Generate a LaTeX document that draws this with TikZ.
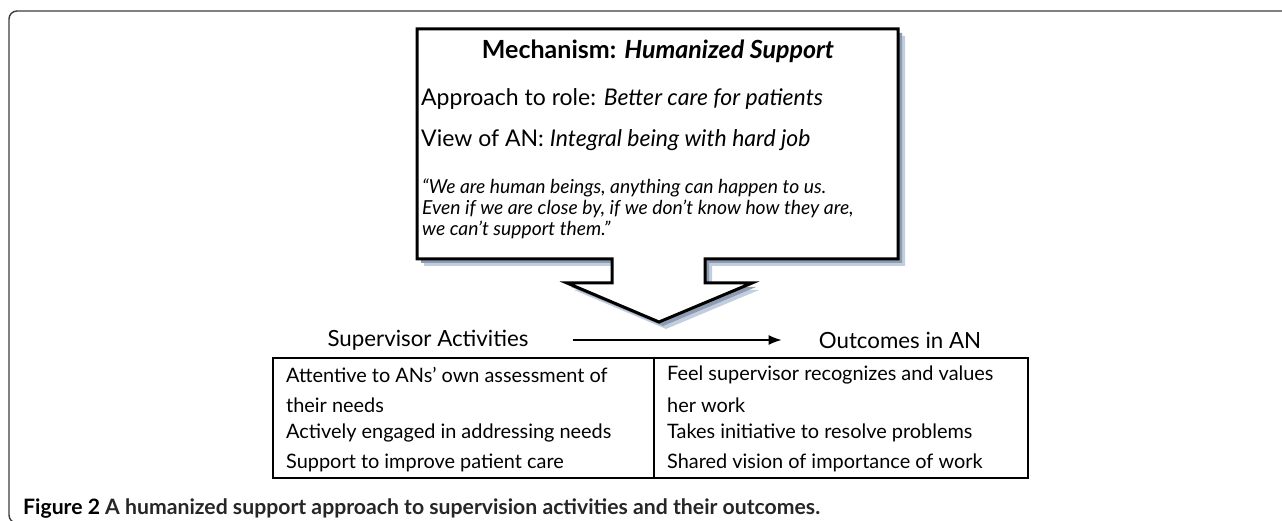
\documentclass[tikz,border=0pt]{standalone}
\usepackage{fontspec}
\setmainfont{Lato}
\usetikzlibrary{arrows.meta}
\definecolor{shadowblue}{RGB}{140,156,180}
\definecolor{shadowpale}{RGB}{196,205,218}
\definecolor{framegray}{RGB}{60,60,60}
\tikzset{
  boxtext/.style={anchor=west,inner sep=0pt,font=\fontsize{23}{26}\selectfont},
  quotetext/.style={anchor=west,inner sep=0pt,font=\fontsize{19.3}{22}\selectfont\itshape},
  celltext/.style={anchor=west,inner sep=0pt,font=\fontsize{19.9}{23}\selectfont},
  headtext/.style={inner sep=0pt,font=\fontsize{22.3}{26}\selectfont},
}
\begin{document}
\begin{tikzpicture}[x=1pt,y=-1pt]
\useasboundingbox (0,0) rectangle (1282,521);
\clip (0,0) rectangle (1282,521);
%\draw[step=50,gray,very thin] (0,0) grid (1282,521);
\draw[framegray,line width=1.4pt,rounded corners=8pt] (1300,11) -- (9,11) -- (9,523) -- (1300,523);
% callout with its shadow
\fill[shadowpale] (424,36)--(905,36)--(905,266)--(712,266)--(712,290)--(759,290)--(666,329)--(574,290)--(619,290)--(619,266)--(424,266)--cycle;
\fill[shadowblue] (421,33)--(902,33)--(902,263)--(709,263)--(709,287)--(756,287)--(663,326)--(571,287)--(616,287)--(616,263)--(421,263)--cycle;
\draw[line width=3pt,fill=white,line join=miter] (417,29)--(898,29)--(898,259)--(705,259)--(705,283)--(752,283)--(659,322)--(567,283)--(612,283)--(612,259)--(417,259)--cycle;
\node[headtext,font=\fontsize{25}{29}\selectfont\bfseries] (mech) at (658,51) {Mechanism: \textit{Humanized Support}};
\node[boxtext] (role) at (421,99) {Approach to role: \textit{Better care for patients}};
\node[boxtext] (view) at (421,140) {View of AN: \textit{Integral being with hard job}};
\node[quotetext] (q1) at (422,188) {``We are human beings, anything can happen to us.};
\node[quotetext] (q2) at (422,209) {Even if we are close by, if we don't know how they are,};
\node[quotetext] (q3) at (422,230) {we can't support them.''};
% activities and outcomes
\node[headtext] (sup) at (428,340) {Supervisor Activities};
\node[headtext] (out) at (900,340) {Outcomes in AN};
\draw[line width=1.6pt,-{Latex[length=13pt,width=10pt]},shorten <=44pt,shorten >=37pt] (sup) -- (out);
\draw[line width=2.5pt] (273,358) rectangle (1028,478);
\draw[line width=2pt] (654,358) -- (654,478);
\node[celltext] (a1) at (286,375) {Attentive to ANs' own assessment of};
\node[celltext] (a2) at (286,405) {their needs};
\node[celltext] (a3) at (286,433) {Actively engaged in addressing needs};
\node[celltext] (a4) at (286,463) {Support to improve patient care};
\node[celltext] (o1) at (667,375) {Feel supervisor recognizes and values};
\node[celltext] (o2) at (667,405) {her work};
\node[celltext] (o3) at (667,433) {Takes initiative to resolve problems};
\node[celltext] (o4) at (667,463) {Shared vision of importance of work};
\node[anchor=west,inner sep=0pt,font=\fontsize{21.2}{25}\selectfont\bfseries] (cap) at (23,509) {Figure 2 \textcolor{black!85}{A humanized support approach to supervision activities and their outcomes.}};
\end{tikzpicture}
\end{document}
